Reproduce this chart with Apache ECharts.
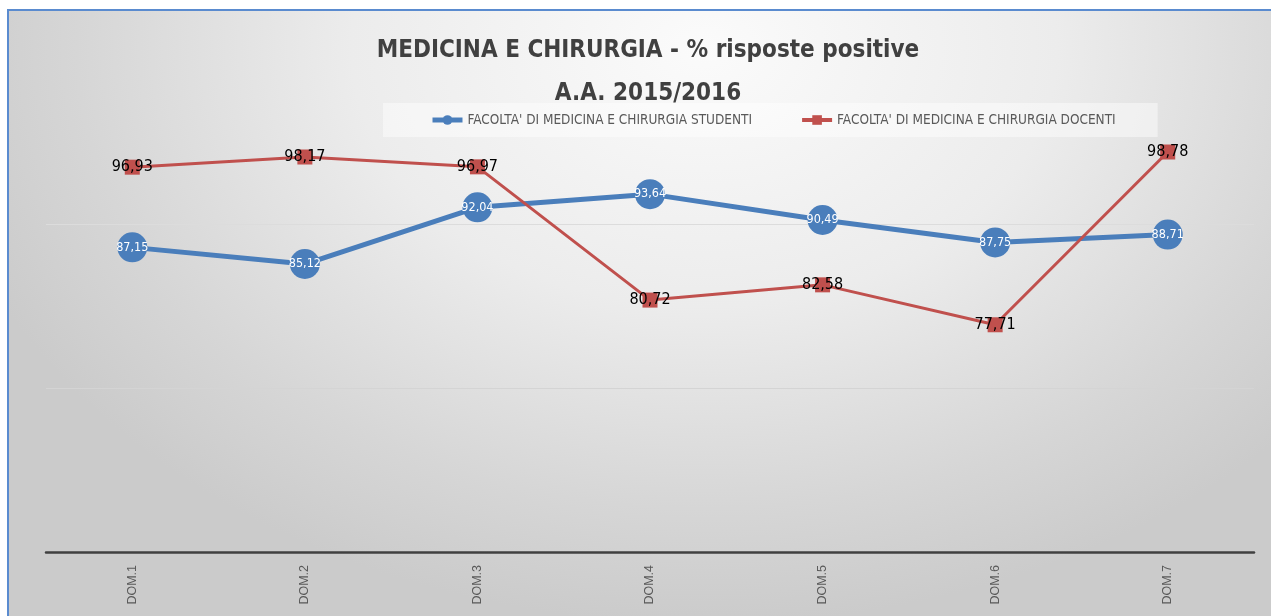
<!DOCTYPE html>
<html>
<head>
<meta charset="utf-8">
<title>MEDICINA E CHIRURGIA - % risposte positive</title>
<script src="https://cdn.jsdelivr.net/npm/echarts@6/dist/echarts.min.js"></script>
<style>
    html, body { margin: 0; padding: 0; background: #ffffff; }
    #panel {
        position: absolute; left: 7px; top: 9px; width: 1264px; height: 607px;
        border-left: 2px solid #5a8bcf; border-top: 2px solid #5a8bcf;
        background: radial-gradient(ellipse 62% 95% at 55% 6%, #fbfbfb 0%, #ececec 45%, #d6d6d6 80%, #cbcbcb 100%);
    }
    #chart { position: absolute; left: 0; top: 0; width: 1271px; height: 616px; }
</style>
</head>
<body>
<div id="panel"></div>
<div id="chart"></div>
<script>
// ------------------------------
// data
// ------------------------------
var categories = ['DOM.1', 'DOM.2', 'DOM.3', 'DOM.4', 'DOM.5', 'DOM.6', 'DOM.7'];
var studenti = [87.15, 85.12, 92.04, 93.64, 90.49, 87.75, 88.71];
var docenti = [96.93, 98.17, 96.97, 80.72, 82.58, 77.71, 98.78];
var seriesNames = [
    "FACOLTA' DI MEDICINA E CHIRURGIA STUDENTI",
    "FACOLTA' DI MEDICINA E CHIRURGIA DOCENTI"
];

var narrow = '"DejaVu Sans Condensed", "Liberation Sans Narrow", sans-serif';

function comma(p) {
    return p.value.toFixed(2).replace('.', ',');
}

var myChart = echarts.init(document.getElementById('chart'));

var option = {
    backgroundColor: 'transparent',
    title: {
        text: 'MEDICINA E CHIRURGIA - % risposte positive\nA.A. 2015/2016',
        left: 643,
        top: 24,
        textAlign: 'center',
        textStyle: {
            fontFamily: narrow,
            fontSize: 24,
            fontWeight: 'bold',
            color: '#404040',
            lineHeight: 43
        }
    },
    legend: {
        left: 383,
        top: 103,
        padding: [10, 42, 10, 47],
        backgroundColor: 'rgba(255,255,255,0.45)',
        itemGap: 48,
        itemWidth: 30,
        itemHeight: 12,
        textStyle: { fontFamily: narrow, fontSize: 13.5, color: '#595959' },
        data: [
            { name: seriesNames[0], lineStyle: { width: 5 } },
            { name: seriesNames[1], lineStyle: { width: 4 } }
        ]
    },
    grid: {
        left: 46,
        right: 17,
        top: 60,
        bottom: 64
    },
    xAxis: {
        type: 'category',
        data: categories,
        axisLine: { lineStyle: { color: '#404040', width: 2.5 } },
        axisTick: { show: false },
        axisLabel: {
            rotate: 90,
            margin: 13,
            fontFamily: '"Liberation Sans", Arial, sans-serif',
            fontSize: 12.5,
            color: '#595959'
        }
    },
    yAxis: {
        type: 'value',
        min: 50,
        max: 110,
        interval: 20,
        axisLabel: { show: false },
        axisLine: { show: false },
        axisTick: { show: false },
        splitLine: {
            lineStyle: { color: ['rgba(0,0,0,0)', '#d4d4d4', '#dcdcdc', 'rgba(0,0,0,0)'], width: 1 }
        }
    },
    series: [
        {
            name: seriesNames[0],
            type: 'line',
            data: studenti,
            symbol: 'circle',
            symbolSize: 30,
            color: '#4a7ebb',
            lineStyle: { width: 5, color: '#4a7ebb' },
            label: {
                show: true,
                position: 'inside',
                formatter: comma,
                fontFamily: narrow,
                fontSize: 12.5,
                color: '#ffffff'
            }
        },
        {
            name: seriesNames[1],
            type: 'line',
            data: docenti,
            symbol: 'rect',
            symbolSize: 15,
            color: '#c0504d',
            lineStyle: { width: 3, color: '#c0504d' },
            label: {
                show: true,
                position: 'inside',
                formatter: comma,
                fontFamily: narrow,
                fontSize: 16,
                color: '#000000'
            }
        }
    ]
};

myChart.setOption(option);
</script>
</body>
</html>
